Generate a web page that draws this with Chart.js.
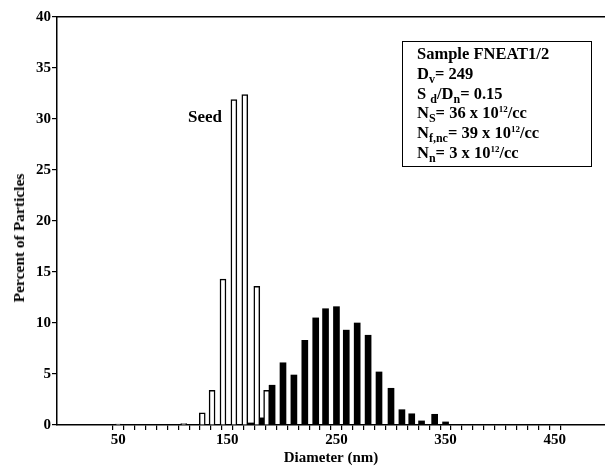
<!DOCTYPE html>
<html>
<head>
<meta charset="utf-8">
<script src="https://cdn.jsdelivr.net/npm/chart.js@4/dist/chart.umd.min.js"></script>
<style>
  html, body { margin: 0; padding: 0; background: #fff; }
  #wrap { position: relative; width: 605px; height: 469px; overflow: hidden; }
  canvas { position: absolute; left: 0; top: 0; }
  .lbl { position: absolute; font-family: "Liberation Serif", "Times New Roman", serif; font-weight: bold; color: #000; white-space: nowrap; }
  #box { left: 402px; top: 41px; width: 190px; height: 126px; border: 1.5px solid #000; box-sizing: border-box; padding: 2px 0 0 14px; font-size: 16.5px; line-height: 19.8px; }
  #box sub { font-size: 12px; vertical-align: -4px; line-height: 0; }
  #box sup { font-size: 9px; vertical-align: 6px; line-height: 0; }
  #seed { left: 188px; top: 107px; font-size: 17px; }
  #ytitle { left: 19px; top: 238px; font-size: 15.5px; transform: translate(-50%, -50%) rotate(-90deg); }
</style>
</head>
<body>
<div id="wrap">
  <canvas id="c" width="605" height="469"></canvas>
  <div class="lbl" id="box">
    Sample FNEAT1/2<br>
    D<sub>v</sub>= 249<br>
    S <sub>d</sub>/D<sub>n</sub>= 0.15<br>
    N<sub>S</sub>= 36 x 10<sup>12</sup>/cc<br>
    N<sub>f,nc</sub>= 39 x 10<sup>12</sup>/cc<br>
    N<sub>n</sub>= 3 x 10<sup>12</sup>/cc
  </div>
  <div class="lbl" id="seed">Seed</div>
  <div class="lbl" id="ytitle">Percent of Particles</div>
</div>
<script>
// Seed distribution (open bars)
const seedDiameters = [50, 110, 127, 136, 146, 156, 166, 177, 186];
const seedPercents  = [0.1, 0.15, 1.2, 3.4, 14.3, 31.9, 32.4, 13.6, 3.4];
// Final distribution (filled bars)
const finalDiameters = [172, 182, 191, 201, 211, 221, 231, 240, 250, 259, 269, 279, 289, 300, 310, 319, 328, 340, 350];
const finalPercents  = [0.2, 0.7, 3.9, 6.1, 4.9, 8.3, 10.5, 11.4, 11.6, 9.3, 10.0, 8.8, 5.2, 3.6, 1.5, 1.1, 0.4, 1.05, 0.3];
// Axis ticks
const xTickValues = [50, 60, 70, 80, 90, 100, 110, 120, 130, 140, 150, 160, 170, 180, 190, 200, 210, 220, 230, 240, 250, 260, 270, 280, 290, 300, 310, 320, 330, 340, 350, 360, 370, 380, 390, 400, 410, 420, 430, 440, 450];
const xTickLabels = [50, 150, 250, 350, 450];
const yTickValues = [0, 5, 10, 15, 20, 25, 30, 35, 40];

const serif = '"Liberation Serif", "Times New Roman", serif';

const toPoints = (xs, ys) => xs.map((x, i) => ({x: x, y: ys[i]}));

new Chart(document.getElementById('c'), {
  type: 'bar',
  data: {
    datasets: [
      {
        label: 'Seed',
        data: toPoints(seedDiameters, seedPercents),
        backgroundColor: '#ffffff',
        borderColor: '#000000',
        borderWidth: 1.5,
        borderSkipped: 'bottom',
        barThickness: 6,
        grouped: false
      },
      {
        label: 'Final',
        data: toPoints(finalDiameters, finalPercents),
        backgroundColor: '#000000',
        borderColor: '#000000',
        borderWidth: 0,
        barThickness: 6,
        grouped: false
      }
    ]
  },
  options: {
    responsive: false,
    animation: false,
    events: [],
    layout: { padding: { left: 0, right: 0, top: 0, bottom: 0 } },
    plugins: { legend: { display: false }, tooltip: { enabled: false } },
    scales: {
      x: {
        type: 'linear',
        position: 'bottom',
        min: 0,
        max: 490,
        afterBuildTicks: (s) => { s.ticks = xTickValues.map(v => ({value: v})); },
        afterFit: (s) => { s.height = 44; },
        ticks: {
          autoSkip: false,
          maxRotation: 0,
          padding: 1,
          color: '#000',
          font: { family: serif, weight: 'bold', size: 15 },
          callback: (v) => xTickLabels.includes(v) ? String(v) : ''
        },
        grid: { display: true, drawOnChartArea: false, drawTicks: true, tickLength: 5, color: '#000', lineWidth: 1.2 },
        border: { display: true, color: '#000', width: 1.5 },
        title: { display: true, text: 'Diameter (nm)', color: '#000', font: { family: serif, weight: 'bold', size: 15 }, padding: { top: 0, bottom: 2 } }
      },
      xTop: {
        type: 'linear',
        position: 'top',
        min: 0,
        max: 490,
        afterFit: (s) => { s.height = 17; },
        ticks: { display: false },
        grid: { display: false, drawTicks: false },
        border: { display: true, color: '#000', width: 1.5 }
      },
      y: {
        min: 0,
        max: 40,
        afterBuildTicks: (s) => { s.ticks = yTickValues.map(v => ({value: v})); },
        afterFit: (s) => { s.width = 57; },
        ticks: {
          padding: 1,
          color: '#000',
          font: { family: serif, weight: 'bold', size: 15 }
        },
        grid: { display: true, drawOnChartArea: false, drawTicks: true, tickLength: 5, color: '#000', lineWidth: 1.2 },
        border: { display: true, color: '#000', width: 1.5 },
        title: { display: false }
      }
    }
  }
});
</script>
</body>
</html>
